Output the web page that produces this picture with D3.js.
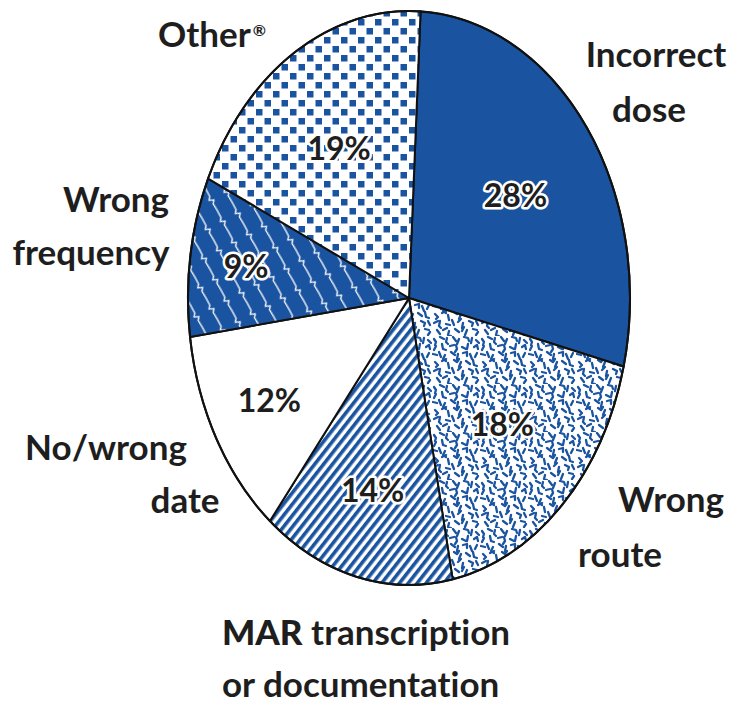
<!DOCTYPE html>
<html>
<head>
<meta charset="utf-8">
<script src="https://cdn.jsdelivr.net/npm/d3@7"></script>
<style>
  html, body { margin: 0; padding: 0; background: #fff; }
  svg { display: block; }
  text { font-family: Lato, "Open Sans", sans-serif; font-weight: 700; fill: #1e1e1e; font-variant-ligatures: none; }
</style>
</head>
<body>
<div id="chart"></div>
<script>
// ---- data ----
const categories = ["Incorrect dose", "Wrong route", "MAR transcription or documentation", "No/wrong date", "Wrong frequency", "Other"];
const values = [28, 18, 14, 12, 9, 19];
const labelLines = [["Incorrect", "dose"], ["Wrong", "route"], ["MAR transcription", "or documentation"], ["No/wrong", "date"], ["Wrong", "frequency"], ["Other"]];
const fills = ["solid", "speckle", "stripes", "white", "zigzag", "checker"];

// ---- layout ----
const W = 736, H = 704;
const cx = 409, cy = 298, rx = 221, ry = 287;
const startDeg = 3;
const blue = "#1a54a0";
const pctRadius = [0.60, 0.61, 0.69, 0.725, 0.745, 0.61];
const outerPos = [
  [[656, 67, "middle"], [649, 122, "middle"]],
  [[671, 512, "middle"], [620, 567, "middle"]],
  [[222, 645, "start"], [222, 697, "start"]],
  [[106, 460, "middle"], [185, 513, "middle"]],
  [[116, 212, "middle"], [91, 265, "middle"]],
  [[212, 47, "middle"]]
];

const svg = d3.select("#chart").append("svg").attr("width", W).attr("height", H);
const defs = svg.append("defs");

// speckle pattern (hand-placed short squiggles)
const speck = defs.append("pattern").attr("id", "speckle").attr("patternUnits", "userSpaceOnUse")
  .attr("width", 48).attr("height", 48);
speck.append("rect").attr("width", 48).attr("height", 48).attr("fill", "#fff");
const strokes = [
  "M2,3 l2,3 l-1,3", "M8,1 l4,2", "M15,2 l-1,4 l2,2", "M21,1 l3,4", "M27,3 l-2,5", "M32,1 l4,1 l1,3", "M40,2 l-1,5", "M44,4 l3,3",
  "M4,10 l-2,4", "M10,8 l1,5 l3,1", "M18,10 l4,-1", "M24,9 l1,4 l-2,3", "M30,11 l4,2", "M36,8 l-1,5", "M42,11 l3,-2 l1,4",
  "M1,18 l4,1", "M7,16 l2,5", "M13,19 l-2,4 l3,2", "M19,16 l4,3", "M26,18 l-1,5", "M31,17 l4,-1 l0,4", "M38,18 l2,5", "M45,17 l-2,4",
  "M3,26 l3,3 l-2,2", "M10,25 l4,-2", "M16,27 l1,5", "M22,24 l3,2 l2,-3", "M29,26 l-2,5", "M34,25 l4,3", "M41,24 l1,5 l3,1",
  "M2,35 l4,-2", "M8,33 l-1,5 l2,2", "M14,36 l4,1", "M20,32 l2,5", "M26,34 l3,-3", "M31,35 l-1,5", "M37,33 l4,2 l-1,3", "M44,33 l2,4",
  "M5,42 l3,4", "M11,42 l4,-2", "M17,43 l-1,4 l3,1", "M23,41 l4,3", "M30,43 l2,-4", "M35,42 l-2,5", "M41,41 l4,1", "M46,44 l-2,3"
];
speck.selectAll("path").data(strokes).join("path").attr("d", d => d)
  .attr("stroke", blue).attr("stroke-width", 2.3).attr("stroke-linecap", "round")
  .attr("stroke-linejoin", "round").attr("fill", "none");

// stripes
const stripes = defs.append("pattern").attr("id", "stripes").attr("patternUnits", "userSpaceOnUse")
  .attr("width", 7).attr("height", 20).attr("patternTransform", "rotate(38)");
stripes.append("rect").attr("width", 7).attr("height", 20).attr("fill", "#fff");
stripes.append("rect").attr("width", 3.6).attr("height", 20).attr("fill", blue);

// zigzag (blue with white lightning lines)
const zig = defs.append("pattern").attr("id", "zigzag").attr("patternUnits", "userSpaceOnUse")
  .attr("width", 17).attr("height", 24).attr("patternTransform", "rotate(-28)");
zig.append("rect").attr("width", 17).attr("height", 24).attr("fill", blue);
zig.append("path").attr("d", "M8,0 L8,8 L5.5,11 L10,13 L7.5,16 L8,24")
  .attr("stroke", "#fff").attr("stroke-width", 1.3).attr("fill", "none");

// checker
const chk = defs.append("pattern").attr("id", "checker").attr("patternUnits", "userSpaceOnUse")
  .attr("width", 17).attr("height", 18);
chk.append("rect").attr("width", 17).attr("height", 18).attr("fill", "#fff");
chk.append("rect").attr("x", 1).attr("y", 1).attr("width", 6.5).attr("height", 6.5).attr("fill", blue);
chk.append("rect").attr("x", 9.5).attr("y", 10).attr("width", 6.5).attr("height", 6.5).attr("fill", blue);

const fillOf = f => f === "solid" ? blue : f === "white" ? "#fff" : `url(#${f})`;

// ---- pie ----
const pie = d3.pie().sort(null).value(d => d)
  .startAngle(startDeg * Math.PI / 180).endAngle(startDeg * Math.PI / 180 + 2 * Math.PI);
const arcs = pie(values);

const pt = (a, k = 1) => [cx + k * rx * Math.sin(a), cy - k * ry * Math.cos(a)];
function slicePath(d) {
  const [x0, y0] = pt(d.startAngle);
  const [x1, y1] = pt(d.endAngle);
  const large = (d.endAngle - d.startAngle) > Math.PI ? 1 : 0;
  return `M${cx},${cy}L${x0},${y0}A${rx},${ry} 0 ${large} 1 ${x1},${y1}Z`;
}

const g = svg.append("g");
g.selectAll("path.slice").data(arcs).join("path").attr("class", "slice")
  .attr("d", slicePath)
  .attr("fill", (d, i) => fillOf(fills[i]))
  .attr("stroke", "#111").attr("stroke-width", 2).attr("stroke-linejoin", "round");

// outer ellipse outline
g.append("ellipse").attr("cx", cx).attr("cy", cy).attr("rx", rx).attr("ry", ry)
  .attr("fill", "none").attr("stroke", "#111").attr("stroke-width", 2);

// percentage labels
arcs.forEach((d, i) => {
  const mid = (d.startAngle + d.endAngle) / 2;
  const [x, y] = pt(mid, pctRadius[i]);
  g.append("text").attr("x", x).attr("y", y).attr("dy", "0.36em")
    .attr("text-anchor", "middle").style("font-size", "32px")
    .style("stroke", "#fff").style("stroke-width", 5).style("paint-order", "stroke")
    .style("stroke-linejoin", "round")
    .text(values[i] + "%");
});

// category labels
labelLines.forEach((lines, i) => {
  lines.forEach((line, j) => {
    const [x, y, anchor] = outerPos[i][j];
    const t = svg.append("text").attr("x", x).attr("y", y).attr("text-anchor", anchor)
      .style("font-size", "35px");
    if (line.startsWith("MAR ")) {
      t.append("tspan").style("font-weight", 900).text("MAR");
      t.append("tspan").text(line.slice(3));
    } else {
      t.append("tspan").text(line);
    }
    if (i === 5) {
      t.append("tspan").attr("dy", "-0.7em").attr("dx", "2").style("font-size", "16px").text("®");
    }
  });
});
</script>
</body>
</html>
